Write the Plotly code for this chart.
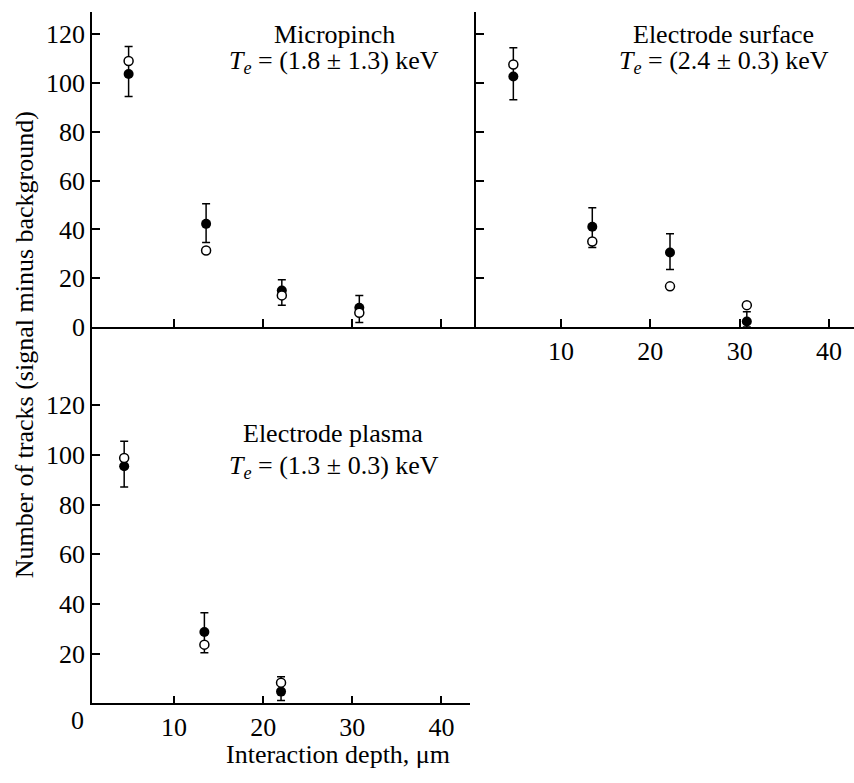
import plotly.graph_objects as go

W, H = 854, 783
FONT = "Times New Roman, Liberation Serif, serif"
FS = 26

# Micropinch panel
mp_x = [4.9, 13.6, 22.1, 30.8]
mp_filled = [103.7, 42.3, 15.0, 7.9]
mp_open = [109.0, 31.4, 13.0, 5.9]
mp_err_up = [11.3, 8.2, 4.4, 5.1]
mp_err_dn = [9.2, 7.6, 6.0, 6.0]

# Electrode surface panel
es_x = [4.66, 13.5, 22.2, 30.8]
es_filled = [102.7, 41.1, 30.6, 2.3]
es_open = [107.6, 35.1, 16.7, 9.0]
es_err_up = [11.8, 7.8, 7.7, 4.0]
es_err_dn = [9.5, 8.5, 7.0, 2.3]

# Electrode plasma panel
ep_x = [4.4, 13.4, 22.0]
ep_filled = [95.4, 28.7, 4.7]
ep_open = [98.7, 23.6, 8.3]
ep_err_up = [10.1, 7.7, 6.0]
ep_err_dn = [8.4, 8.4, 3.6]

x_ticks = [10, 20, 30, 40]
y_ticks = [0, 20, 40, 60, 80, 100, 120]
y_ticks_nz = [20, 40, 60, 80, 100, 120]

panels = [
    ("Micropinch", "(1.8 ± 1.3) keV"),
    ("Electrode surface", "(2.4 ± 0.3) keV"),
    ("Electrode plasma", "(1.3 ± 0.3) keV"),
]


def px(x):
    return x / W


def py(y):
    return 1 - y / H


fig = go.Figure()

data = [
    (mp_x, mp_filled, mp_open, mp_err_up, mp_err_dn, "x", "y"),
    (es_x, es_filled, es_open, es_err_up, es_err_dn, "x2", "y2"),
    (ep_x, ep_filled, ep_open, ep_err_up, ep_err_dn, "x3", "y3"),
]

for xs, fill, opn, up, dn, xa, ya in data:
    fig.add_trace(go.Scatter(
        x=xs, y=fill, mode="markers", xaxis=xa, yaxis=ya,
        marker=dict(symbol="circle", size=10, color="black"),
        error_y=dict(type="data", symmetric=False, array=up, arrayminus=dn,
                     color="black", thickness=1.5, width=4),
        cliponaxis=False, showlegend=False,
    ))
    fig.add_trace(go.Scatter(
        x=xs, y=opn, mode="markers", xaxis=xa, yaxis=ya,
        marker=dict(symbol="circle", size=9, color="white",
                    line=dict(color="black", width=1.5)),
        cliponaxis=False, showlegend=False,
    ))

axis_common = dict(
    showgrid=False, zeroline=False, showline=True, linecolor="black",
    linewidth=1.5, ticks="inside", ticklen=8, tickwidth=1.5, tickcolor="black",
    tickfont=dict(family=FONT, size=FS, color="black"),
)

fig.update_layout(
    width=W, height=H,
    margin=dict(l=0, r=0, t=0, b=0),
    paper_bgcolor="white", plot_bgcolor="white",
    font=dict(family=FONT, size=FS, color="black"),
    # top-left
    xaxis=dict(domain=[px(92), px(476)], range=[0.79, 43.9], anchor="y",
               tickvals=x_ticks, showticklabels=False, **axis_common),
    yaxis=dict(domain=[py(333.5), py(12)], range=[0, 129.2], anchor="x",
               tickvals=y_ticks, **axis_common),
    # top-right
    xaxis2=dict(domain=[px(476), px(854)], range=[0.48, 42.8], anchor="y2",
                tickvals=x_ticks, **axis_common),
    yaxis2=dict(domain=[py(333.5), py(12)], range=[0, 129.2], anchor="x2",
                tickvals=y_ticks_nz, showticklabels=False, **axis_common),
    # bottom
    xaxis3=dict(domain=[px(92), px(470)], range=[0.79, 43.2], anchor="y3",
                tickvals=x_ticks, **axis_common),
    yaxis3=dict(domain=[py(717), py(333.5)], range=[0, 151.4], anchor="x3",
                tickvals=y_ticks_nz, **axis_common),
)

ann = []
label_pos = [(334, 35, 334, 63), (723, 35, 724, 63), (333, 442, 334, 476)]
for (name, te), (nx, ny, tx, ty) in zip(panels, label_pos):
    ann.append(dict(x=px(nx), y=py(ny), xref="paper", yref="paper",
                    text=name, showarrow=False, xanchor="center", yanchor="middle",
                    font=dict(family=FONT, size=FS, color="black")))
    ann.append(dict(x=px(tx), y=py(ty), xref="paper", yref="paper",
                    text="<i>T</i><sub><i>e</i></sub> = " + te, showarrow=False,
                    xanchor="center", yanchor="middle",
                    font=dict(family=FONT, size=FS, color="black")))

ann.append(dict(x=px(77), y=py(735), xref="paper", yref="paper", text="0",
                showarrow=False, xanchor="center", yanchor="middle",
                font=dict(family=FONT, size=FS, color="black")))
ann.append(dict(x=px(338), y=py(769), xref="paper", yref="paper",
                text="Interaction depth, μm", showarrow=False,
                xanchor="center", yanchor="middle",
                font=dict(family=FONT, size=FS, color="black")))
ann.append(dict(x=px(24), y=py(352), xref="paper", yref="paper",
                text="Number of tracks (signal minus background)", showarrow=False,
                textangle=-90, xanchor="center", yanchor="middle",
                font=dict(family=FONT, size=FS, color="black")))
fig.update_layout(annotations=ann)

fig.write_html(
    "out.html",
    post_script="document.body.style.margin='0';document.body.style.overflow='hidden';",
)
